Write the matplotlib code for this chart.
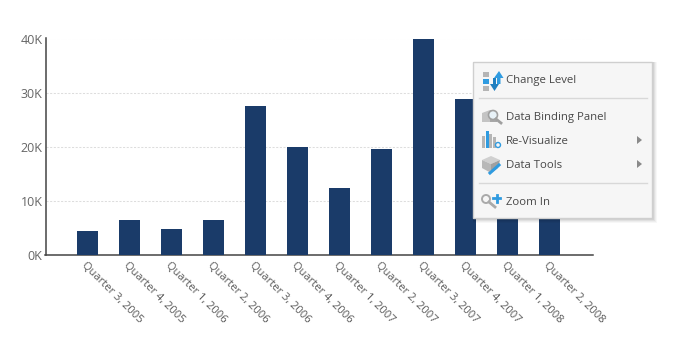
import matplotlib
matplotlib.use("Agg")
import matplotlib.pyplot as plt
from matplotlib.patches import Rectangle, Polygon, Circle
from matplotlib.lines import Line2D

categories = ["Quarter 3, 2005", "Quarter 4, 2005", "Quarter 1, 2006", "Quarter 2, 2006",
              "Quarter 3, 2006", "Quarter 4, 2006", "Quarter 1, 2007", "Quarter 2, 2007",
              "Quarter 3, 2007", "Quarter 4, 2007", "Quarter 1, 2008", "Quarter 2, 2008"]
values = [4400, 6400, 4800, 6400, 27500, 19900, 12400, 19600, 41500, 28900, 22000, 18000]
yticks = [0, 10000, 20000, 30000, 40000]
ytick_labels = ["0K", "10K", "20K", "30K", "40K"]
menu_main = ["Change Level", "Data Binding Panel", "Re-Visualize", "Data Tools", "Zoom In"]

plt.rcParams['font.family'] = ['Open Sans', 'DejaVu Sans']
W, H = 676, 360
fig = plt.figure(figsize=(W/100, H/100), dpi=100, facecolor='white')
ax = fig.add_axes([45.5/W, 1-255/H, (593-45.5)/W, (255-38.5)/H])
x = list(range(len(categories)))
ax.bar(x, values, width=0.5, color='#1a3b69', zorder=3)
ax.set_xlim(-0.995, 12.04)
ax.set_ylim(0, 40000)
ax.set_yticks(yticks, ytick_labels, fontsize=9, color='#666666')
ax.set_xticks(x, categories, fontsize=8.0, color='#5a5a5a', rotation=-45,
              ha='left', va='top', rotation_mode='anchor')
ax.tick_params(axis='both', length=0)
ax.tick_params(axis='x', pad=3.5)
ax.tick_params(axis='y', pad=2)
ax.grid(axis='y', color='#dddddd', linestyle=(0, (2, 1.5)), linewidth=0.75, zorder=0)
for s in ['top', 'right']:
    ax.spines[s].set_visible(False)
for s in ['left', 'bottom']:
    ax.spines[s].set_color('#444444')
    ax.spines[s].set_linewidth(1.1)

# context menu overlay in pixel coordinates
ov = fig.add_axes([0, 0, 1, 1], zorder=10)
ov.set_xlim(0, W); ov.set_ylim(H, 0); ov.axis('off'); ov.patch.set_alpha(0)
for i, a in zip(range(5, 0, -1), [0.03, 0.04, 0.05, 0.06, 0.08]):
    ov.add_patch(Rectangle((473, 62), 179+i, 155.5+i, fc='#000000', ec='none', alpha=a))
ov.add_patch(Rectangle((473, 61.5), 179, 156, fc='#f6f6f6', ec='#cfcfcf', lw=1))
for y in (97.5, 182.5):
    ov.add_line(Line2D([479, 647], [y, y], color='#d8d8d8', lw=1))
text_y = [80.5, 117.5, 141, 165, 202.5]
for label, y in zip(menu_main, text_y):
    ov.text(506, y, label, fontsize=8.2, color='#484848', va='center', ha='left')
for y in (140, 164):
    ov.add_patch(Polygon([(637, y-4), (642, y), (637, y+4)], fc='#8a8a8a', ec='none'))

blue, gray = '#2f9be0', '#b5b5b5'
# Change Level icon
ov.add_patch(Rectangle((483, 72), 6, 5, fc=gray, ec='none'))
ov.add_patch(Rectangle((483, 79), 6, 5, fc=blue, ec='none'))
ov.add_patch(Rectangle((483, 86), 6, 5, fc=gray, ec='none'))
ov.add_patch(Polygon([(490, 84), (493, 84), (493, 78), (496, 78), (496, 84), (499, 84), (494.5, 91)], fc='#1f7fc0', ec='none'))
ov.add_patch(Polygon([(494, 78), (499, 71), (503.5, 78), (500.5, 78), (500.5, 84), (497, 84), (497, 78)], fc=blue, ec='none'))
# Data Binding icon
ov.add_patch(Polygon([(482, 113), (490, 110), (490, 122), (482, 122)], fc='#c4c4c4', ec='none'))
ov.add_patch(Polygon([(490, 110), (497, 113), (497, 122), (490, 122)], fc='#a8a8a8', ec='none'))
ov.add_patch(Circle((493, 115), 4.5, fc='#e8f2f8', ec='#a0a0a0', lw=1.2))
ov.add_line(Line2D([496, 501], [119, 123], color='#a0a0a0', lw=2))
# Re-Visualize icon
for xb, yb, w in [(482, 136, 3), (485.5, 131, 3), (489, 134, 3), (492.5, 137, 3)]:
    ov.add_patch(Rectangle((xb, yb), w, 148-yb, fc=blue if xb == 485.5 else gray, ec='none'))
ov.add_patch(Circle((498, 145), 2.5, fc='none', ec=blue, lw=1))
# Data Tools icon
ov.add_patch(Polygon([(482, 160), (491, 156), (500, 160), (491, 164)], fc='#d0d0d0', ec='none'))
ov.add_patch(Polygon([(482, 160), (491, 164), (491, 173), (482, 168)], fc='#b8b8b8', ec='none'))
ov.add_patch(Polygon([(491, 164), (500, 160), (498, 168), (491, 173)], fc='#a0a0a0', ec='none'))
ov.add_line(Line2D([490, 499], [173, 165], color=blue, lw=2.2))
# Zoom In icon
ov.add_patch(Circle((486, 199), 4, fc='none', ec='#aaaaaa', lw=1.4))
ov.add_line(Line2D([489, 495], [202, 207], color='#aaaaaa', lw=2))
ov.add_line(Line2D([492.5, 500], [198, 198], color=blue, lw=2))
ov.add_line(Line2D([496.5, 496.5], [194.5, 202], color=blue, lw=2))

fig.savefig("out.png", dpi=100)
